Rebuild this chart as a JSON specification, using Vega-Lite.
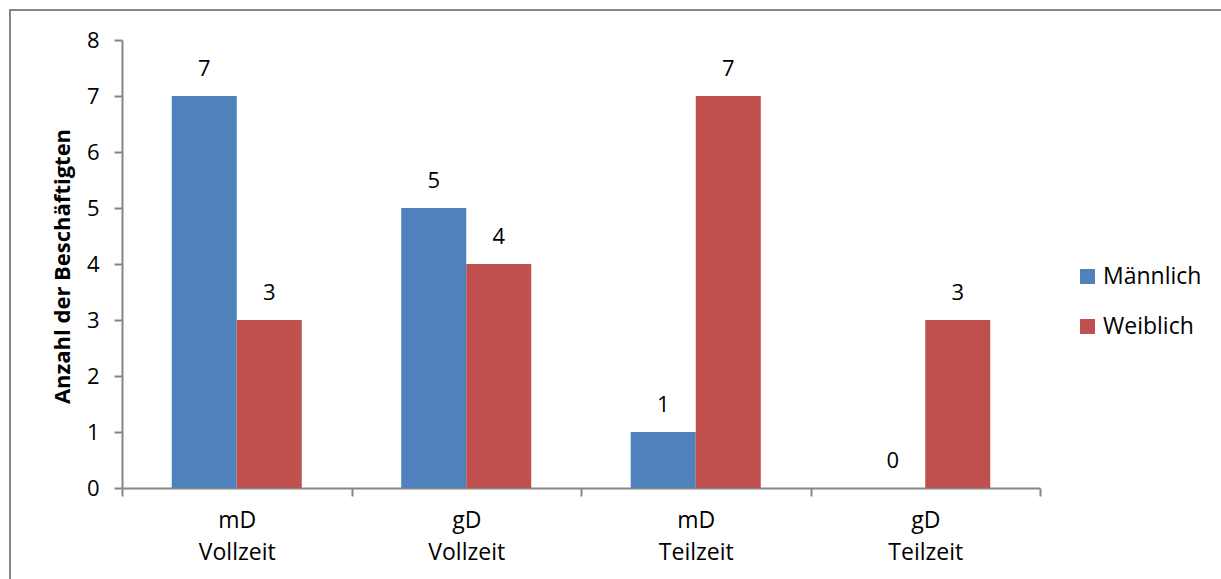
{
  "$schema": "https://vega.github.io/schema/vega-lite/v6.json",
  "width": 1211,
  "height": 569,
  "autosize": {"type": "none"},
  "padding": {"left": 10, "top": 10, "right": 0, "bottom": 0},
  "background": "white",
  "config": {
    "font": "Open Sans",
    "view": {"stroke": "#868686", "strokeWidth": 2, "strokeDash": [1211, 1780, 569]},
    "axis": {"grid": false, "domainColor": "#868686", "domainWidth": 2, "tickColor": "#868686", "tickWidth": 2, "tickSize": 8, "labelColor": "#000000", "labelFontSize": 22, "titleColor": "#000000"}
  },
  "data": {
    "values": [
      {"Gruppe": "mD Vollzeit", "Geschlecht": "Männlich", "Anzahl": 7},
      {"Gruppe": "mD Vollzeit", "Geschlecht": "Weiblich", "Anzahl": 3},
      {"Gruppe": "gD Vollzeit", "Geschlecht": "Männlich", "Anzahl": 5},
      {"Gruppe": "gD Vollzeit", "Geschlecht": "Weiblich", "Anzahl": 4},
      {"Gruppe": "mD Teilzeit", "Geschlecht": "Männlich", "Anzahl": 1},
      {"Gruppe": "mD Teilzeit", "Geschlecht": "Weiblich", "Anzahl": 7},
      {"Gruppe": "gD Teilzeit", "Geschlecht": "Männlich", "Anzahl": 0},
      {"Gruppe": "gD Teilzeit", "Geschlecht": "Weiblich", "Anzahl": 3}
    ]
  },
  "encoding": {
    "x": {
      "field": "Gruppe",
      "type": "nominal",
      "sort": null,
      "scale": {"range": [112, 1030], "paddingInner": 0, "paddingOuter": 0},
      "axis": {
        "orient": "bottom",
        "offset": -91,
        "title": null,
        "labelAngle": 0,
        "tickBand": "extent",
        "labelExpr": "split(datum.label, ' ')",
        "labelFontSize": 23,
        "labelLineHeight": 32,
        "labelBaseline": "top",
        "labelPadding": 13
      }
    },
    "xOffset": {
      "field": "Geschlecht",
      "type": "nominal",
      "sort": ["Männlich", "Weiblich"],
      "scale": {"paddingInner": 0, "paddingOuter": 0.765}
    },
    "y": {
      "field": "Anzahl",
      "type": "quantitative",
      "scale": {"domain": [0, 8], "range": [478, 30], "nice": false, "zero": true},
      "axis": {
        "orient": "left",
        "offset": -112,
        "values": [0, 1, 2, 3, 4, 5, 6, 7, 8],
        "labelPadding": 15,
        "title": "Anzahl der Beschäftigten",
        "titleFontSize": 22,
        "titleFontWeight": "bold",
        "titleAngle": -90,
        "titleX": -60,
        "titleY": 256,
        "titleAlign": "center",
        "titleBaseline": "middle"
      }
    }
  },
  "layer": [
    {
      "mark": {"type": "bar"},
      "encoding": {
        "color": {
          "field": "Geschlecht",
          "type": "nominal",
          "scale": {"domain": ["Männlich", "Weiblich"], "range": ["#4F81BD", "#C0504D"]},
          "legend": {
            "title": null,
            "orient": "none",
            "legendX": 1066,
            "legendY": 255,
            "padding": 0,
            "symbolType": "square",
            "symbolSize": 225,
            "symbolStrokeWidth": 0,
            "labelFontSize": 23,
            "labelColor": "#000000",
            "labelOffset": 4,
            "rowPadding": 26
          }
        }
      }
    },
    {
      "mark": {"type": "text", "dy": -27, "baseline": "middle", "fontSize": 22, "color": "#000000"},
      "encoding": {
        "text": {"field": "Anzahl", "type": "quantitative"}
      }
    }
  ]
}
